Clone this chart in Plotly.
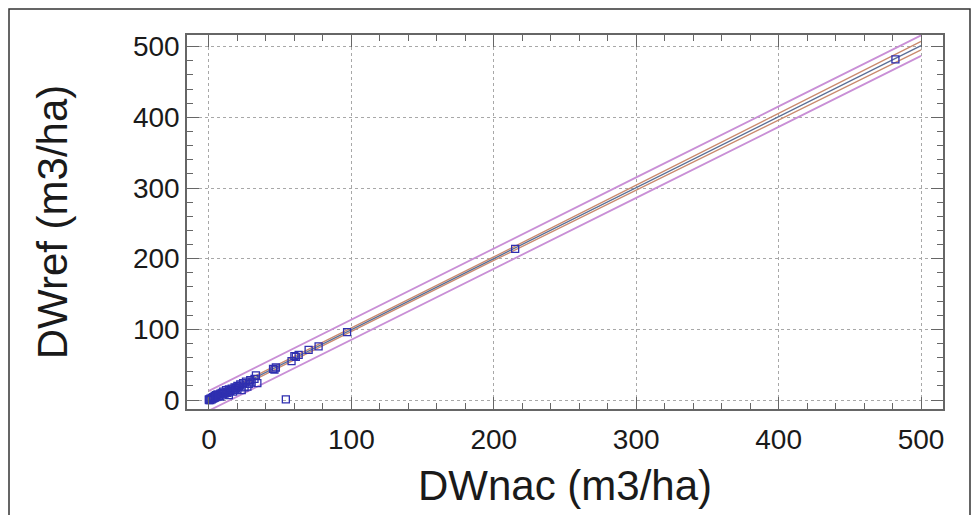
import plotly.graph_objects as go

# Observed points (DWnac, DWref)
dw_nac = [0, 0, 1, 1, 2, 2, 3, 3, 4, 4, 5, 5, 6, 6, 7, 8, 8, 9, 10, 10,
          11, 12, 12, 13, 14, 14, 15, 16, 17, 18, 18, 19, 20, 20, 21, 22, 23, 24, 25, 26,
          27, 28, 29, 30, 32, 33, 34, 45, 46, 47, 54, 58, 60, 61, 63, 70, 77, 97, 215, 482]
dw_ref = [0, 1, 0, 2, 1, 3, 2, 4, 3, 6, 4, 7, 5, 8, 6, 9, 5, 10, 8, 12,
          9, 11, 14, 10, 7, 15, 13, 16, 12, 18, 14, 17, 15, 20, 19, 22, 14, 24, 18, 26,
          19, 23, 28, 25, 30, 35, 24, 44, 43, 46, 1, 55, 62, 61, 64, 71, 76, 96, 214, 482]

# Fitted model and limits
line_x = [0, 100, 200, 300, 400, 500]
fit_y = [-1, 99.5, 200, 300.5, 401, 501.5]
conf_hi = [1.5, 101.5, 202.5, 304.0, 405.5, 507.5]
conf_lo = [-3.5, 97.5, 197.5, 297.0, 396.5, 495.5]
pred_hi = [13, 114, 214.5, 315, 415.5, 516]
pred_lo = [-15, 85, 185.5, 286, 386.5, 487]

tick_vals = [0, 100, 200, 300, 400, 500]
tick_text = ["0", "100", "200", "300", "400", "500"]

fig = go.Figure()
for ys in (pred_hi, pred_lo):
    fig.add_trace(go.Scatter(x=line_x, y=ys, mode="lines",
                             line=dict(color="#c98fd6", width=1.8), hoverinfo="skip"))
for ys in (conf_hi, conf_lo):
    fig.add_trace(go.Scatter(x=line_x, y=ys, mode="lines",
                             line=dict(color="#c98a6e", width=1.3), hoverinfo="skip"))
fig.add_trace(go.Scatter(x=line_x, y=fit_y, mode="lines",
                         line=dict(color="#5b6f96", width=1.4), hoverinfo="skip"))
fig.add_trace(go.Scatter(x=dw_nac, y=dw_ref, mode="markers",
                         marker=dict(symbol="square-open", size=7, color="#2f2fb0",
                                     line=dict(width=1.3, color="#2f2fb0"))))

axis_common = dict(
    tickvals=tick_vals, ticktext=tick_text,
    showgrid=True, gridcolor="#a8a8a8", griddash="dot", gridwidth=1,
    zeroline=False, showline=True, linecolor="#666", linewidth=1.5,
    mirror="allticks", ticks="inside", ticklen=12, tickcolor="#666", tickwidth=1.2,
    minor=dict(ticks="inside", dtick=20, ticklen=6, tickcolor="#666", showgrid=False),
    tickfont=dict(family="Liberation Sans, Arial", size=28, color="#1a1a1a"),
    title_font=dict(family="Liberation Sans, Arial", size=42, color="#1a1a1a"),
)

fig.update_xaxes(range=[-15.4, 515.4], title_text="DWnac (m3/ha)", title_standoff=16,
                 ticklabelstandoff=5, **axis_common)
fig.update_yaxes(range=[-12.7, 516.5], title_text="DWref (m3/ha)", title_standoff=52,
                 **axis_common)

# Outer frame around the figure
fig.add_shape(type="rect", xref="paper", yref="paper",
              x0=(9 - 187) / 756, x1=(970 - 187) / 756,
              y0=(409 - 530) / 374, y1=(409 - 9) / 374,
              line=dict(color="#333", width=1.5), layer="below")

fig.update_layout(
    width=979, height=515,
    margin=dict(l=187, r=36, t=35, b=106),
    paper_bgcolor="white", plot_bgcolor="white",
    showlegend=False,
)

fig.write_html("out.html")
